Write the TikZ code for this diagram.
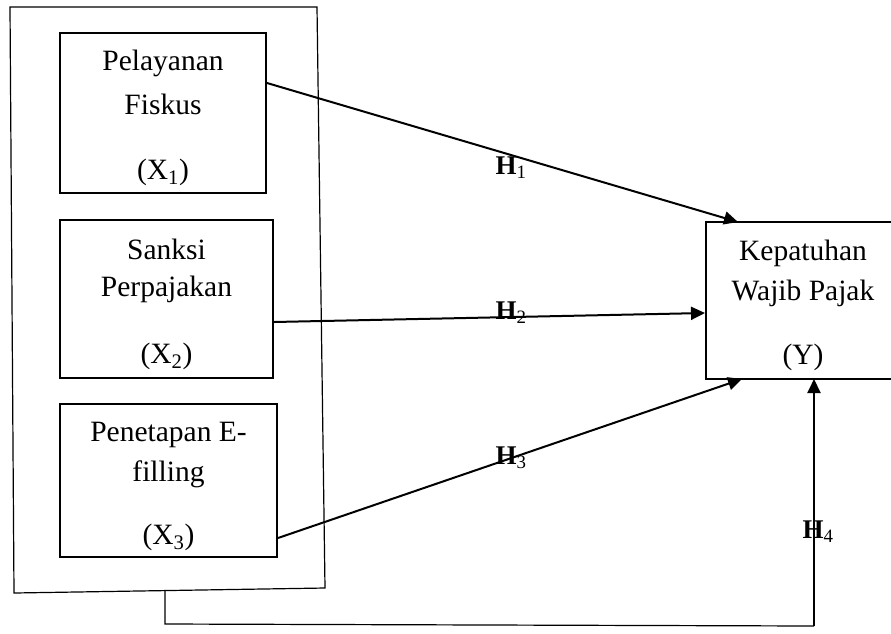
\documentclass[tikz,border=0pt]{standalone}
\usepackage{fontspec}
\setmainfont{Liberation Serif}
\usetikzlibrary{arrows.meta}
\begin{document}
\begin{tikzpicture}[x=1pt,y=-1pt,
  varbox/.style={draw,line width=2pt,inner sep=0pt,fill=none},
  boxtext/.style={inner sep=0pt,font=\fontsize{29.5}{34}\selectfont},
  hlabel/.style={inner sep=0pt,font=\fontsize{27}{30}\selectfont},
  arrowline/.style={line width=2pt,-{Triangle[length=14pt,width=13pt]}},
  frameline/.style={line width=1.2pt}]
\useasboundingbox (0,0) rectangle (891,633);
% outer frame
\draw[frameline] (10,7) -- (317,7) -- (325,588) -- (14,593) -- cycle;
% boxes
\node[varbox,minimum width=206pt,minimum height=160pt] (X1) at (163,113) {};
\node[varbox,minimum width=213pt,minimum height=158pt] (X2) at (166.5,299) {};
\node[varbox,minimum width=217pt,minimum height=153pt] (X3) at (168.5,480.5) {};
\node[varbox,minimum width=194pt,minimum height=157pt] (Y) at (803,300.5) {};
% texts
\node[boxtext] (t1a) at (163,63) {Pelayanan};
\node[boxtext] (t1b) at (163,104) {Fiskus};
\node[boxtext] (t1c) at (163,172) {(X\textsubscript{1})};
\node[boxtext] (t2a) at (166.5,249) {Sanksi};
\node[boxtext] (t2b) at (166.5,289) {Perpajakan};
\node[boxtext] (t2c) at (166.5,356) {(X\textsubscript{2})};
\node[boxtext] (t3a) at (168.5,435) {Penetapan E-};
\node[boxtext] (t3b) at (168.5,474) {filling};
\node[boxtext] (t3c) at (168.5,537) {(X\textsubscript{3})};
\node[boxtext] (tya) at (803,253) {Kepatuhan};
\node[boxtext] (tyb) at (803,293) {Wajib Pajak};
\node[boxtext] (tyc) at (803,357) {(Y)};
% connector endpoints
\coordinate (s1) at (X1.east |- 0,83);
\coordinate (e1) at (738,222);
\coordinate (s2) at (X2.east |- 0,322);
\coordinate (e2) at (Y.west |- 0,313);
\coordinate (s3) at (X3.east |- 0,538);
\coordinate (e3) at (742,379);
\coordinate (s4) at (165,590.5);
\coordinate (c4a) at (165,624);
\coordinate (c4b) at (814,626);
\coordinate (e4) at (814,379);
% arrows
\draw[arrowline] (s1) -- (e1);
\draw[arrowline] (s2) -- (e2);
\draw[arrowline] (s3) -- (e3);
\draw[frameline] (s4) -- (c4a) -- (c4b);
\draw[arrowline] (c4b) -- (e4);
% labels
\node[hlabel] (h1) at (511,168) {\textbf{H}\textsubscript{1}};
\node[hlabel] (h2) at (511,313) {\textbf{H}\textsubscript{2}};
\node[hlabel] (h3) at (511,458) {\textbf{H}\textsubscript{3}};
\node[hlabel] (h4) at (818,532) {\textbf{H}\textsubscript{4}};
\end{tikzpicture}
\end{document}
